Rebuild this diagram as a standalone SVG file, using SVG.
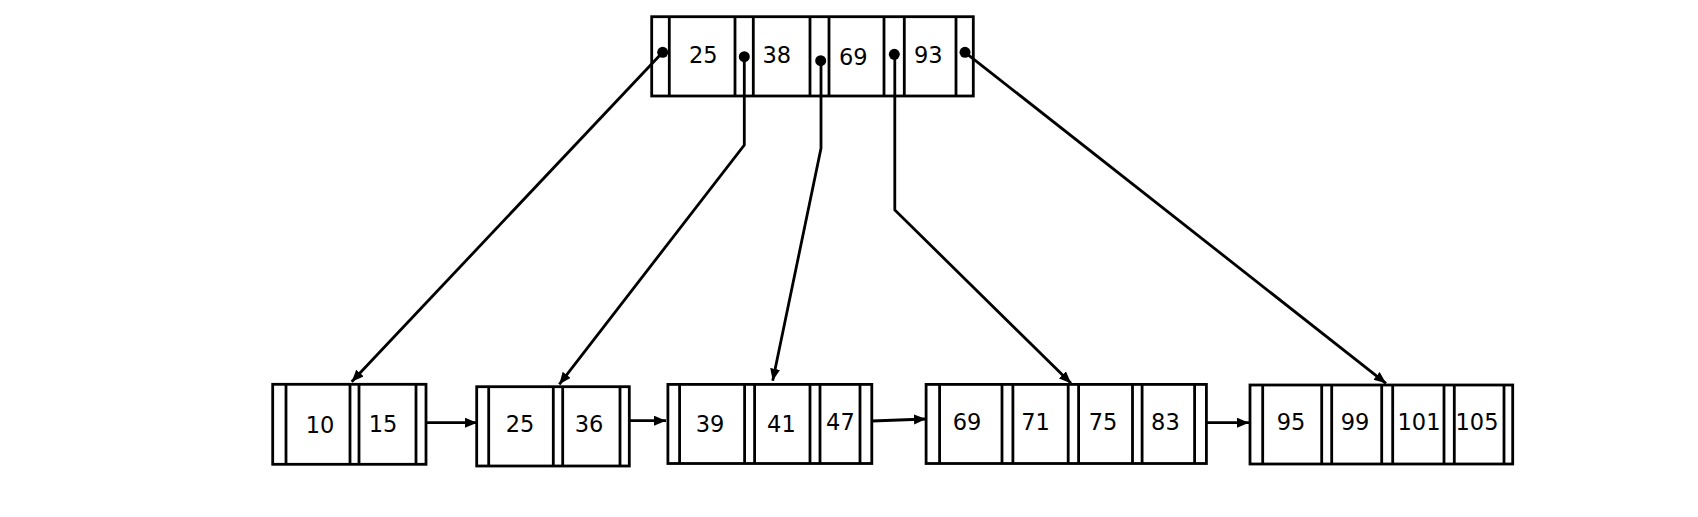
<svg xmlns="http://www.w3.org/2000/svg" width="1698" height="517" viewBox="0 0 1698 517">
<style>
.box{fill:#fff;stroke:#000;stroke-width:2.8}
.sep{stroke:#000;stroke-width:2.8}
.t{font-family:"DejaVu Sans","Liberation Sans",sans-serif;font-size:22.5px;fill:#000;text-anchor:middle}
.c{fill:none;stroke:#000;stroke-width:2.8}
.dot{fill:#000}
</style>
<defs>
<marker id="ah" markerUnits="userSpaceOnUse" markerWidth="13" markerHeight="11" refX="12" refY="5" orient="auto">
<path d="M0,0 L12,5 L0,10 z" fill="#000"/>
</marker>
</defs>
<rect width="1698" height="517" fill="#fff"/>
<g id="root">
<rect class="box" x="651.7" y="16.7" width="321.6" height="79.3"/>
<path class="sep" d="M669.3,16.7V96M735,16.7V96M753.3,16.7V96M810,16.7V96M829,16.7V96M884,16.7V96M904.3,16.7V96M956,16.7V96"/>
<text class="t" x="703.3" y="62.5">25</text>
<text class="t" x="776.7" y="62.5">38</text>
<text class="t" x="853.3" y="65">69</text>
<text class="t" x="928.3" y="62.5">93</text>
</g>
<g id="leaf1">
<rect class="box" x="272.7" y="384.3" width="153.3" height="80"/>
<path class="sep" d="M286,384.3V464.3M350,384.3V464.3M359,384.3V464.3M416,384.3V464.3"/>
<text class="t" x="320" y="433">10</text>
<text class="t" x="383" y="431.5">15</text>
</g>
<g id="leaf2">
<rect class="box" x="476.7" y="386.7" width="152.6" height="79.3"/>
<path class="sep" d="M488.7,386.7V466M553.3,386.7V466M562.7,386.7V466M620,386.7V466"/>
<text class="t" x="520" y="431.5">25</text>
<text class="t" x="589" y="431.5">36</text>
</g>
<g id="leaf3">
<rect class="box" x="667.9" y="384.4" width="203.9" height="79.1"/>
<path class="sep" d="M679.6,384.4V463.5M744.6,384.4V463.5M754.6,384.4V463.5M810,384.4V463.5M820,384.4V463.5M860,384.4V463.5"/>
<text class="t" x="710" y="431.5">39</text>
<text class="t" x="781.4" y="431.5">41</text>
<text class="t" x="840.4" y="429.5">47</text>
</g>
<g id="leaf4">
<rect class="box" x="926.1" y="384.4" width="280.3" height="79.1"/>
<path class="sep" d="M939.6,384.4V463.5M1002,384.4V463.5M1012.9,384.4V463.5M1068.2,384.4V463.5M1078.6,384.4V463.5M1132.5,384.4V463.5M1142.1,384.4V463.5M1194.6,384.4V463.5"/>
<text class="t" x="967" y="429.5">69</text>
<text class="t" x="1035.5" y="429.5">71</text>
<text class="t" x="1103" y="429.5">75</text>
<text class="t" x="1165.4" y="429.5">83</text>
</g>
<g id="leaf5">
<rect class="box" x="1250" y="385" width="262.7" height="79"/>
<path class="sep" d="M1262.7,385V464M1321.7,385V464M1331.7,385V464M1381.7,385V464M1392.7,385V464M1444,385V464M1454.3,385V464M1504,385V464"/>
<text class="t" x="1291" y="429.5">95</text>
<text class="t" x="1355" y="429.5">99</text>
<text class="t" x="1419" y="429.5">101</text>
<text class="t" x="1477" y="429.5">105</text>
</g>
<g id="connectors">
<path class="c" marker-end="url(#ah)" d="M662.7,52.3L351.7,381.7"/>
<path class="c" marker-end="url(#ah)" d="M744.3,56.7V145L559.3,384.3"/>
<path class="c" marker-end="url(#ah)" d="M821,60.7V148.3L772.7,380.7"/>
<path class="c" marker-end="url(#ah)" d="M894.8,54.3V210L1071,383.3"/>
<path class="c" marker-end="url(#ah)" d="M965,52.3L1386,383.3"/>
<path class="c" marker-end="url(#ah)" d="M426,422.7H477"/>
<path class="c" marker-end="url(#ah)" d="M629.3,420.7H666"/>
<path class="c" marker-end="url(#ah)" d="M871.8,421L926,419"/>
<path class="c" marker-end="url(#ah)" d="M1206.4,422.7H1249"/>
<circle class="dot" cx="662.7" cy="52.3" r="5.5"/>
<circle class="dot" cx="744.3" cy="56.7" r="5.5"/>
<circle class="dot" cx="820.7" cy="60.7" r="5.5"/>
<circle class="dot" cx="894.3" cy="54.3" r="5.5"/>
<circle class="dot" cx="965" cy="52.3" r="5.5"/>
</g>
</svg>
